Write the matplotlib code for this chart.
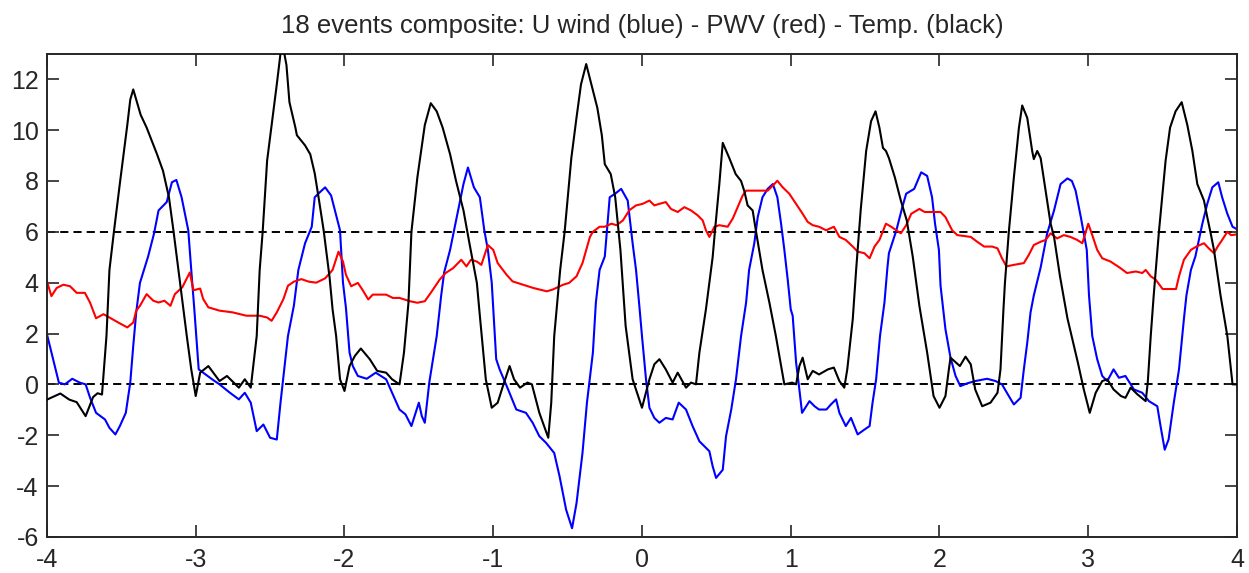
import numpy as np
import matplotlib
matplotlib.use("Agg")
import matplotlib.pyplot as plt

# Composite of 18 events, time axis in days relative to the event (t = 0)

# Temperature anomaly (black)
temp_x = [-4.0, -3.91, -3.85, -3.8, -3.74, -3.69, -3.66, -3.63, -3.6, -3.58, -3.55, -3.51, -3.46, -3.44,
          -3.42, -3.37, -3.33, -3.26, -3.22, -3.18, -3.15, -3.105, -3.06, -3.03, -3.0, -2.97, -2.915,
          -2.84, -2.79, -2.71, -2.67, -2.63, -2.59, -2.57, -2.55, -2.52, -2.455, -2.42, -2.39, -2.37,
          -2.33, -2.32, -2.265, -2.23, -2.2, -2.17, -2.14, -2.1, -2.08, -2.056, -2.03, -2.0, -1.966,
          -1.93, -1.89, -1.83, -1.78, -1.72, -1.68, -1.63, -1.6, -1.57, -1.55, -1.51, -1.46, -1.42,
          -1.38, -1.34, -1.29, -1.25, -1.2, -1.16, -1.11, -1.09, -1.05, -1.01, -0.97, -0.935, -0.89,
          -0.86, -0.82, -0.77, -0.74, -0.69, -0.63, -0.61, -0.59, -0.55, -0.52, -0.475, -0.44, -0.41,
          -0.375, -0.34, -0.30, -0.27, -0.25, -0.21, -0.18, -0.145, -0.11, -0.063, 0.0, 0.05, 0.083,
          0.117, 0.16, 0.206, 0.24, 0.296, 0.33, 0.363, 0.386, 0.43, 0.475, 0.49, 0.52, 0.543, 0.587,
          0.63, 0.666, 0.688, 0.71, 0.744, 0.767, 0.81, 0.857, 0.9, 0.935, 0.957, 1.01, 1.036, 1.058,
          1.08, 1.114, 1.148, 1.19, 1.25, 1.29, 1.327, 1.36, 1.38, 1.417, 1.44, 1.47, 1.507, 1.54,
          1.57, 1.596, 1.62, 1.64, 1.66, 1.70, 1.74, 1.78, 1.82, 1.865, 1.917, 1.96, 2.0, 2.04, 2.063,
          2.074, 2.137, 2.175, 2.21, 2.24, 2.287, 2.343, 2.39, 2.41, 2.43, 2.44, 2.466, 2.5, 2.534,
          2.556, 2.59, 2.623, 2.634, 2.657, 2.68, 2.713, 2.747, 2.77, 2.81, 2.86, 2.93, 2.97, 3.01,
          3.05, 3.094, 3.128, 3.17, 3.22, 3.25, 3.285, 3.33, 3.386, 3.4, 3.42, 3.44, 3.475, 3.52,
          3.55, 3.587, 3.628, 3.666, 3.70, 3.733, 3.778, 3.80, 3.823, 3.845, 3.89, 3.935, 3.97, 4.0]
temp_y = [-0.6, -0.36, -0.6, -0.7, -1.25, -0.5, -0.35, -0.4, 1.9, 4.5, 6.0, 7.9, 10.2, 11.2,
          11.6, 10.6, 10.1, 9.05, 8.4, 7.36, 6.06, 3.99, 1.9, 0.59, -0.46, 0.46, 0.72,
          0.13, 0.33, -0.13, 0.2, -0.13, 1.9, 4.5, 6.0, 8.8, 11.8, 13.5, 12.56, 11.1,
          10.1, 9.8, 9.4, 9.05, 8.3, 7.2, 6.06, 4.2, 2.95, 1.9, 0.2, -0.26, 0.72,
          1.12, 1.41, 0.99, 0.53, 0.46, 0.2, 0.0, 1.25, 3.2, 6.0, 8.14, 10.2, 11.06,
          10.74, 10.1, 9.05, 8.0, 6.84, 5.55, 3.99, 2.7, 0.2, -0.92, -0.72, -0.07, 0.72,
          0.2, -0.13, 0.07, 0.0, -1.12, -2.1, -0.72, 1.9, 4.5, 6.0, 8.9, 10.5, 11.8,
          12.6, 11.8, 10.87, 9.8, 8.66, 8.27, 7.36, 5.29, 2.3, 0.2, -0.92, 0.2, 0.79,
          0.99, 0.59, 0.07, 0.46, -0.13, 0.07, 0.0, 1.25, 2.96, 5.0, 6.0, 7.88, 9.5, 8.9,
          8.27, 8.0, 7.6, 7.04, 6.84, 6.0, 4.5, 3.2, 1.9, 0.72, 0.0, 0.07, 0.0, 0.72,
          1.05, 0.2, 0.53, 0.39, 0.59, 0.66, 0.13, -0.13, 0.59, 2.57, 4.54, 6.84, 9.18, 10.35,
          10.74, 10.1, 9.3, 9.18, 8.9, 8.14, 7.23, 6.45, 5.03, 3.08, 1.25, -0.46, -0.92, -0.46, 0.59,
          1.05, 0.72, 1.09, 0.79, -0.2, -0.86, -0.72, -0.33, 0.59, 2.96, 4.0, 6.0, 8.14, 10.1,
          10.97, 10.48, 9.18, 8.86, 9.18, 8.9, 7.62, 6.32, 5.8, 4.25, 2.6, 0.86, -0.2, -1.12,
          -0.33, 0.13, 0.2, -0.2, -0.46, -0.53, -0.13, -0.39, -0.66, 0.07, 1.9, 3.5, 6.0, 8.8,
          10.1, 10.74, 11.1, 10.2, 9.18, 7.88, 7.23, 6.58, 5.94, 5.29, 3.47, 1.9, 0.0, 0.0]

# Zonal wind U (blue)
wind_x = [-4.0, -3.92, -3.88, -3.83, -3.78, -3.74, -3.71, -3.67, -3.61, -3.58, -3.54, -3.51, -3.47,
          -3.44, -3.42, -3.40, -3.375, -3.32, -3.28, -3.25, -3.195, -3.16, -3.13, -3.095, -3.05,
          -3.03, -3.01, -2.98, -2.95, -2.89, -2.84, -2.77, -2.71, -2.67, -2.63, -2.59, -2.545, -2.5,
          -2.455, -2.43, -2.41, -2.38, -2.34, -2.31, -2.265, -2.22, -2.2, -2.165, -2.13, -2.09,
          -2.07, -2.03, -2.01, -1.99, -1.966, -1.944, -1.91, -1.85, -1.79, -1.72, -1.68, -1.63,
          -1.59, -1.55, -1.5, -1.48, -1.46, -1.43, -1.38, -1.35, -1.33, -1.29, -1.25, -1.2, -1.17,
          -1.13, -1.09, -1.06, -1.036, -1.01, -0.99, -0.98, -0.957, -0.90, -0.845, -0.78, -0.735,
          -0.69, -0.645, -0.59, -0.554, -0.51, -0.47, -0.44, -0.4, -0.37, -0.33, -0.31, -0.285,
          -0.25, -0.217, -0.18, -0.14, -0.096, -0.063, -0.04, -0.018, 0.0, 0.027, 0.05, 0.083,
          0.117, 0.16, 0.206, 0.247, 0.296, 0.34, 0.386, 0.453, 0.475, 0.498, 0.543, 0.565, 0.6,
          0.632, 0.666, 0.7, 0.72, 0.755, 0.778, 0.81, 0.845, 0.88, 0.91, 0.935, 0.957, 0.98, 1.0,
          1.013, 1.036, 1.058, 1.076, 1.126, 1.16, 1.19, 1.24, 1.27, 1.305, 1.327, 1.37, 1.405,
          1.45, 1.495, 1.53, 1.55, 1.574, 1.6, 1.63, 1.65, 1.66, 1.71, 1.75, 1.776, 1.83, 1.877,
          1.917, 1.95, 1.97, 1.996, 2.007, 2.04, 2.074, 2.108, 2.14, 2.186, 2.24, 2.32, 2.377,
          2.42, 2.466, 2.5, 2.545, 2.567, 2.59, 2.612, 2.634, 2.68, 2.724, 2.77, 2.814, 2.86, 2.89,
          2.915, 2.95, 2.99, 3.005, 3.027, 3.06, 3.094, 3.128, 3.17, 3.206, 3.25, 3.307, 3.363,
          3.408, 3.464, 3.486, 3.514, 3.54, 3.575, 3.61, 3.643, 3.66, 3.69, 3.72, 3.767, 3.80,
          3.834, 3.874, 3.90, 3.935, 3.97, 4.0]
wind_y = [1.97, 0.07, 0.0, 0.22, 0.07, 0.0, -0.53, -1.12, -1.38, -1.71, -1.97, -1.64, -1.12,
          0.07, 1.51, 2.83, 3.99, 5.03, 5.94, 6.84, 7.17, 7.95, 8.04, 7.36, 6.06,
          4.5, 3.0, 0.59, 0.46, 0.2, 0.0, -0.33, -0.59, -0.33, -0.72, -1.84, -1.58, -2.1,
          -2.17, -0.72, 0.33, 1.9, 3.1, 4.5, 5.55, 6.2, 7.36, 7.56, 7.75, 7.43,
          6.97, 6.06, 4.0, 3.0, 1.25, 0.72, 0.33, 0.22, 0.46, 0.2, -0.33, -0.99,
          -1.18, -1.64, -0.72, -1.25, -1.51, 0.07, 1.9, 3.49, 4.4, 5.29, 6.45, 7.88, 8.53,
          7.75, 7.36, 6.06, 5.29, 4.0, 2.0, 0.99, 0.59, -0.2, -0.99, -1.12, -1.51,
          -2.04, -2.3, -2.7, -3.62, -4.93, -5.66, -4.67, -2.7, -0.72, 1.25, 3.22, 4.5,
          5.03, 7.36, 7.5, 7.69, 7.23, 5.55, 4.5, 3.1, 1.9, 0.2, -0.92, -1.32,
          -1.51, -1.32, -1.38, -0.72, -0.99, -1.64, -2.24, -2.63, -3.22, -3.68, -3.36, -2.04, -0.99,
          0.2, 1.9, 3.22, 4.5, 5.55, 6.58, 7.36, 7.69, 7.88, 7.36, 6.32, 5.29, 4.1, 2.95,
          2.7, 0.86, -0.2, -1.12, -0.66, -0.86, -0.99, -0.99, -0.79, -0.59, -1.12, -1.64, -1.32,
          -1.97, -1.78, -1.64, -0.72, 0.2, 1.9, 3.22, 4.6, 5.16, 6.06, 6.97, 7.5, 7.69, 8.34,
          8.2, 7.36, 6.32, 5.29, 3.88, 2.17, 1.05, 0.33, -0.07, 0.04, 0.13, 0.22, 0.13,
          0.0, -0.46, -0.79, -0.53, 0.59, 1.64, 2.83, 3.5, 4.6, 5.94, 6.84, 7.88, 8.1, 8.0,
          7.62, 6.58, 5.29, 3.5, 1.9, 0.99, 0.33, 0.13, 0.59, 0.26, 0.33, -0.2, -0.33,
          -0.66, -0.86, -1.64, -2.57, -2.17, -0.72, 0.59, 2.57, 3.5, 4.5, 5.03, 6.32, 7.1,
          7.75, 7.95, 7.36, 6.71, 6.2, 6.1]

# Precipitable water vapour (red)
pwv_x = [-4.0, -3.97, -3.935, -3.89, -3.845, -3.8, -3.745, -3.71, -3.67, -3.62, -3.58, -3.52, -3.46,
         -3.42, -3.4, -3.375, -3.33, -3.285, -3.25, -3.21, -3.17, -3.14, -3.09, -3.04, -3.015,
         -2.97, -2.95, -2.915, -2.84, -2.75, -2.66, -2.57, -2.52, -2.49, -2.455, -2.41, -2.38,
         -2.34, -2.29, -2.24, -2.19, -2.13, -2.08, -2.04, -2.01, -1.99, -1.955, -1.91, -1.88,
         -1.84, -1.81, -1.72, -1.675, -1.63, -1.56, -1.51, -1.46, -1.42, -1.36, -1.32, -1.27,
         -1.215, -1.18, -1.15, -1.11, -1.08, -1.036, -1.0, -0.97, -0.91, -0.87, -0.8, -0.73,
         -0.64, -0.6, -0.53, -0.49, -0.44, -0.40, -0.35, -0.33, -0.285, -0.25, -0.206, -0.17,
         -0.128, -0.085, -0.04, 0.004, 0.05, 0.083, 0.117, 0.16, 0.195, 0.24, 0.285, 0.33, 0.374,
         0.408, 0.43, 0.453, 0.487, 0.52, 0.576, 0.61, 0.643, 0.677, 0.7, 0.845, 0.88, 0.91, 0.946,
         0.99, 1.036, 1.08, 1.114, 1.148, 1.19, 1.238, 1.29, 1.327, 1.37, 1.417, 1.45, 1.495, 1.53,
         1.563, 1.596, 1.64, 1.675, 1.71, 1.74, 1.776, 1.81, 1.865, 1.9, 2.007, 2.04, 2.085, 2.12,
         2.21, 2.253, 2.3, 2.354, 2.39, 2.42, 2.45, 2.5, 2.567, 2.6, 2.634, 2.68, 2.713, 2.747,
         2.79, 2.836, 2.88, 2.926, 2.96, 2.98, 3.0, 3.027, 3.06, 3.094, 3.15, 3.217, 3.26, 3.32,
         3.363, 3.386, 3.42, 3.453, 3.5, 3.59, 3.61, 3.643, 3.69, 3.733, 3.778, 3.81, 3.845, 3.87,
         3.90, 3.935, 3.96, 4.0]
pwv_y = [4.05, 3.47, 3.79, 3.92, 3.86, 3.6, 3.6, 3.21, 2.6, 2.76, 2.63, 2.43, 2.24,
         2.43, 2.9, 3.09, 3.55, 3.29, 3.22, 3.29, 3.09, 3.55, 3.82, 4.4, 3.7,
         3.77, 3.36, 3.03, 2.9, 2.83, 2.7, 2.7, 2.63, 2.5, 2.83, 3.36, 3.88,
         4.04, 4.14, 4.04, 4.0, 4.17, 4.5, 5.22, 4.83, 4.31, 3.86, 3.99, 3.73,
         3.34, 3.53, 3.53, 3.4, 3.4, 3.27, 3.21, 3.27, 3.6, 4.12, 4.38, 4.57,
         4.9, 4.64, 4.9, 4.83, 4.7, 5.48, 5.29, 4.77, 4.31, 4.05, 3.92, 3.79,
         3.66, 3.73, 3.92, 3.99, 4.25, 4.77, 5.8, 6.0, 6.2, 6.2, 6.32, 6.26,
         6.45, 6.85, 7.04, 7.1, 7.23, 7.04, 7.1, 7.17, 6.9, 6.78, 6.97, 6.84, 6.65,
         6.45, 6.06, 5.8, 6.2, 6.26, 6.2, 6.52, 6.97, 7.43, 7.62, 7.62, 7.82, 8.01, 7.75,
         7.5, 7.1, 6.71, 6.39, 6.26, 6.2, 6.06, 6.2, 5.8, 5.68, 5.42, 5.22, 5.16, 4.96,
         5.42, 5.68, 6.32, 6.2, 6.06, 5.94, 6.26, 6.71, 6.9, 6.78, 6.78, 6.58, 6.06, 5.87,
         5.8, 5.61, 5.42, 5.42, 5.35, 4.96, 4.64, 4.7, 4.77, 5.09, 5.48, 5.61, 5.68, 5.94,
         5.74, 5.87, 5.8, 5.68, 5.55, 5.94, 6.32, 5.87, 5.29, 4.96, 4.83, 4.57, 4.38, 4.44,
         4.38, 4.5, 4.25, 4.12, 3.75, 3.75, 4.25, 4.9, 5.29, 5.44, 5.55, 5.35, 5.16, 5.42,
         5.68, 6.0, 5.87, 5.9]

# Reference levels drawn as dashed lines
ref_levels = [0, 6]

x_ticks = [-4, -3, -2, -1, 0, 1, 2, 3, 4]
y_ticks = [-6, -4, -2, 0, 2, 4, 6, 8, 10, 12]

TITLE = "18 events composite: U wind (blue) - PWV (red) - Temp. (black)"

plt.rcParams["font.family"] = ["Liberation Sans", "DejaVu Sans"]
plt.rcParams["axes.unicode_minus"] = False

fig = plt.figure(figsize=(12.49, 5.73), dpi=100)
ax = fig.add_axes([0.0376, 0.063, 0.9528, 0.843])

for level in ref_levels:
    ax.axhline(level, color="black", linestyle=(0, (4.2, 2.6)), linewidth=1.4, zorder=1)

ax.plot(wind_x, wind_y, color="#0000ff", linewidth=1.5, zorder=2)
ax.plot(pwv_x, pwv_y, color="#ff0000", linewidth=1.5, zorder=2)
ax.plot(temp_x, temp_y, color="black", linewidth=1.5, zorder=3)

ax.set_xlim(-4, 4)
ax.set_ylim(-6, 13)
ax.set_xticks(x_ticks)
ax.set_yticks(y_ticks)
ax.tick_params(direction="in", length=8.5, width=1.2, top=True, right=True,
               labelsize=18, colors="#262626", pad=6)
ax.tick_params(axis="x", pad=8)
for side in ax.spines.values():
    side.set_linewidth(1.4)
    side.set_color("#262626")

ax.set_title(TITLE, fontsize=18.5, color="#262626", pad=15)

fig.savefig("out.png", dpi=100, facecolor="white")
